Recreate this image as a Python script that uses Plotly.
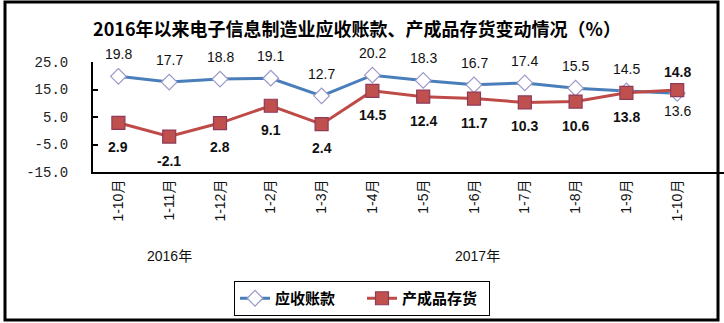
import plotly.graph_objects as go

# Periods (cumulative months) and year groupings
periods = ["1-10月", "1-11月", "1-12月", "1-2月", "1-3月", "1-4月",
           "1-5月", "1-6月", "1-7月", "1-8月", "1-9月", "1-10月"]
years = ["2016年", "2017年"]
year_pos = [1, 7.07]

# Year-on-year growth (%)
receivables = [19.8, 17.7, 18.8, 19.1, 12.7, 20.2, 18.3, 16.7, 17.4, 15.5, 14.5, 13.6]
inventory = [2.9, -2.1, 2.8, 9.1, 2.4, 14.5, 12.4, 11.7, 10.3, 10.6, 13.8, 14.8]

# label placement: +1 above the point, -1 below
recv_side = [1, 1, 1, 1, 1, 1, 1, 1, 1, 1, 1, -1]
inv_side = [-1, -1, -1, -1, -1, -1, -1, -1, -1, -1, -1, 1]

y_ticks = [25, 15, 5, -5, -15]

W, H = 724, 323
L, R, T, B = 93, 0, 62, 151
pw, ph = W - L - R, H - T - B

xs = list(range(len(periods)))

CJK = "Liberation Sans, Noto Sans CJK SC, sans-serif"

fig = go.Figure()
fig.add_trace(go.Scatter(
    x=xs, y=receivables, mode="lines+markers", name="<b>应收账款</b>",
    line=dict(color="#4A7EBB", width=3),
    marker=dict(symbol="diamond", size=12, color="white",
                line=dict(color="#9A98C8", width=1.2)),
))
fig.add_trace(go.Scatter(
    x=xs, y=inventory, mode="lines+markers", name="<b>产成品存货</b>",
    line=dict(color="#BE4B48", width=3),
    marker=dict(symbol="square", size=13, color="#C0504D",
                line=dict(color="#8E3A59", width=1.2)),
))

annotations = []
for x, v, s in zip(xs, receivables, recv_side):
    annotations.append(dict(
        x=x, y=v, xref="x", yref="y", text=f"{v:.1f}", showarrow=False,
        yshift=22 if s > 0 else -18,
        font=dict(family=CJK, size=14, color="#111111"),
    ))
for x, v, s in zip(xs, inventory, inv_side):
    annotations.append(dict(
        x=x, y=v, xref="x", yref="y", text=f"<b>{v:.1f}</b>", showarrow=False,
        yshift=-24 if s < 0 else 18,
        font=dict(family=CJK, size=14, color="#111111"),
    ))
for yr, xp in zip(years, year_pos):
    annotations.append(dict(
        x=xp, y=(172 - 256) / ph, xref="x", yref="paper", text=yr,
        yanchor="middle", showarrow=False,
        font=dict(family=CJK, size=14, color="#111111"),
    ))

# outer frame of the figure
frame = dict(
    type="rect", xref="paper", yref="paper",
    x0=(5 - L) / pw, x1=(718 - L) / pw,
    y0=(172 - 320) / ph, y1=(172 - 2) / ph,
    line=dict(color="black", width=3), layer="above",
)

fig.update_layout(
    width=W, height=H,
    margin=dict(l=L, r=R, t=T, b=B, pad=0),
    paper_bgcolor="white", plot_bgcolor="white",
    title=dict(
        text="<b>2016年以来电子信息制造业应收账款、产成品存货变动情况（%）</b>",
        x=357 / W, xanchor="center", xref="container",
        y=1 - 30 / H, yanchor="middle", yref="container",
        font=dict(family="Noto Sans CJK SC, sans-serif", size=18, color="black"),
    ),
    xaxis=dict(
        range=[-0.5, -0.5 + pw / 50.8], tickvals=xs, ticktext=periods,
        tickangle=-90, showline=True, linecolor="black", linewidth=2,
        showgrid=False, zeroline=False, ticks="",
        tickfont=dict(family=CJK, size=14, color="#111111"),
    ),
    yaxis=dict(
        range=[-15, 25], tickvals=y_ticks,
        ticktext=[f"{v:.1f}" for v in y_ticks],
        showline=True, linecolor="black", linewidth=2,
        ticks="inside", ticklen=5, tickwidth=2, tickcolor="black",
        showgrid=False, zeroline=False, ticklabelstandoff=20,
        tickfont=dict(family="Liberation Mono, monospace", size=14, color="#222222"),
    ),
    legend=dict(
        orientation="h", x=(362 - L) / pw, xanchor="center",
        y=(172 - 281) / ph, yanchor="top",
        bordercolor="black", borderwidth=1, bgcolor="white",
        font=dict(family="Noto Sans CJK SC, sans-serif", size=15, color="black"),
        itemwidth=30, entrywidth=82,
    ),
    annotations=annotations,
    shapes=[frame],
    showlegend=True,
)

fig.write_html("out.html")
